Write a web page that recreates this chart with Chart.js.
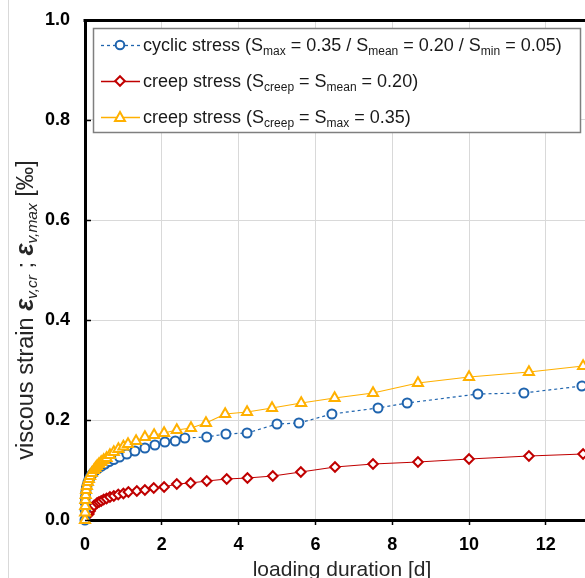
<!DOCTYPE html>
<html><head><meta charset="utf-8">
<script src="https://cdn.jsdelivr.net/npm/chart.js@4"></script>
<style>html,body{margin:0;padding:0;background:#fff;overflow:hidden}</style>
</head><body>
<canvas id="c" width="585" height="578"></canvas>
<script>
// ---- data ----
const cyclicT = [0, 0.003, 0.006, 0.01, 0.02, 0.035, 0.05, 0.075, 0.1, 0.13, 0.17, 0.22, 0.28, 0.35, 0.43, 0.52, 0.63, 0.75, 0.9, 1.09, 1.3, 1.56, 1.82, 2.08, 2.35, 2.6, 3.17, 3.67, 4.22, 5.0, 5.57, 6.43, 7.63, 8.39, 10.23, 11.43, 12.94];
const cyclicV = [0, 0.02, 0.035, 0.045, 0.055, 0.063, 0.068, 0.075, 0.08, 0.085, 0.09, 0.095, 0.1, 0.104, 0.108, 0.112, 0.117, 0.121, 0.126, 0.132, 0.138, 0.144, 0.15, 0.156, 0.158, 0.164, 0.166, 0.172, 0.174, 0.192, 0.194, 0.212, 0.224, 0.234, 0.252, 0.254, 0.268];
const creepMeanT = [0.1, 0.133, 0.178, 0.237, 0.316, 0.365, 0.422, 0.487, 0.562, 0.649, 0.75, 0.866, 1.0, 1.13, 1.35, 1.56, 1.79, 2.06, 2.39, 2.75, 3.17, 3.69, 4.23, 4.89, 5.62, 6.51, 7.5, 8.67, 10.0, 11.56, 12.97];
const creepMeanV = [0.012, 0.018, 0.024, 0.029, 0.034, 0.036, 0.038, 0.041, 0.043, 0.046, 0.048, 0.051, 0.053, 0.056, 0.058, 0.06, 0.064, 0.066, 0.072, 0.074, 0.078, 0.082, 0.084, 0.088, 0.096, 0.106, 0.112, 0.116, 0.122, 0.128, 0.132];
const creepMaxT = [0, 0.003, 0.006, 0.01, 0.018, 0.03, 0.05, 0.075, 0.1, 0.133, 0.178, 0.237, 0.274, 0.316, 0.365, 0.422, 0.487, 0.562, 0.649, 0.75, 0.87, 1.0, 1.12, 1.33, 1.56, 1.8, 2.06, 2.39, 2.76, 3.15, 3.65, 4.22, 4.87, 5.63, 6.5, 7.5, 8.67, 10.0, 11.56, 12.97];
const creepMaxV = [0, 0.015, 0.028, 0.04, 0.05, 0.06, 0.068, 0.076, 0.082, 0.088, 0.094, 0.1, 0.104, 0.108, 0.112, 0.116, 0.12, 0.124, 0.13, 0.136, 0.142, 0.147, 0.152, 0.158, 0.166, 0.17, 0.174, 0.18, 0.184, 0.194, 0.212, 0.216, 0.224, 0.234, 0.244, 0.254, 0.274, 0.286, 0.296, 0.308];
const xTicks = [0, 2, 4, 6, 8, 10, 12];
const yTicks = [0.0, 0.2, 0.4, 0.6, 0.8, 1.0];

const BLUE = '#1F64AE', RED = '#C00000', YEL = '#FFB000';
const FONT = '"Liberation Sans", Arial, sans-serif';
const pts = (t, v) => t.map((x, i) => ({x, y: v[i]}));

function drawRich(ctx, x, y, segs) {
  let cx = x;
  for (const s of segs) {
    ctx.font = s.f;
    ctx.fillText(s.t, cx, y + (s.dy || 0));
    cx += ctx.measureText(s.t).width;
  }
  return cx - x;
}
function richWidth(ctx, segs) {
  let w = 0;
  for (const s of segs) { ctx.font = s.f; w += ctx.measureText(s.t).width; }
  return w;
}

const N = '18px ' + FONT, SUB = '12px ' + FONT;
const legendRows = [
  {type: 'circle', color: BLUE, dash: [3, 3], segs: [
    {t: 'cyclic stress (S', f: N}, {t: 'max', f: SUB, dy: 4}, {t: ' = 0.35 / S', f: N},
    {t: 'mean', f: SUB, dy: 4}, {t: ' = 0.20 / S', f: N}, {t: 'min', f: SUB, dy: 4}, {t: ' = 0.05)', f: N}]},
  {type: 'diamond', color: RED, dash: [], segs: [
    {t: 'creep stress (S', f: N}, {t: 'creep', f: SUB, dy: 4}, {t: ' = S', f: N},
    {t: 'mean', f: SUB, dy: 4}, {t: ' = 0.20)', f: N}]},
  {type: 'triangle', color: YEL, dash: [], segs: [
    {t: 'creep stress (S', f: N}, {t: 'creep', f: SUB, dy: 4}, {t: ' = S', f: N},
    {t: 'max', f: SUB, dy: 4}, {t: ' = 0.35)', f: N}]}
];

const decor = {
  id: 'decor',
  afterDatasetsDraw(chart) {
    const ctx = chart.ctx, a = chart.chartArea;
    const ys = chart.scales.y;
    ctx.save();
    // top frame line
    ctx.strokeStyle = '#000'; ctx.lineWidth = 3;
    ctx.beginPath(); ctx.moveTo(a.left - 1.5, a.top + 0.5); ctx.lineTo(chart.width, a.top + 0.5); ctx.stroke();
    // inward y ticks
    ctx.lineWidth = 1.5;
    for (const v of yTicks) {
      const py = Math.round(ys.getPixelForValue(v)) + 0.5;
      ctx.beginPath(); ctx.moveTo(a.left, py); ctx.lineTo(a.left + 6, py); ctx.stroke();
    }
    // outer frame line
    ctx.strokeStyle = '#d9d9d9'; ctx.lineWidth = 1;
    ctx.beginPath(); ctx.moveTo(8.5, 0); ctx.lineTo(8.5, chart.height); ctx.stroke();

    // legend
    const lx = 93, ly = 28, lw = 487, lh = 104;
    ctx.fillStyle = '#fff'; ctx.fillRect(lx, ly, lw, lh);
    ctx.strokeStyle = '#7f7f7f'; ctx.lineWidth = 1.5;
    ctx.strokeRect(lx + 0.5, ly + 0.5, lw, lh);
    const rowY = [45, 81, 117];
    legendRows.forEach((r, i) => {
      const y = rowY[i];
      ctx.strokeStyle = r.color; ctx.lineWidth = 1.3; ctx.setLineDash(r.dash);
      ctx.beginPath(); ctx.moveTo(101, y + 0.5); ctx.lineTo(140, y + 0.5); ctx.stroke();
      ctx.setLineDash([]);
      ctx.fillStyle = '#fff'; ctx.lineWidth = 2;
      ctx.beginPath();
      if (r.type === 'circle') ctx.arc(120, y, 4.3, 0, Math.PI * 2);
      else if (r.type === 'diamond') { ctx.moveTo(120, y - 4.8); ctx.lineTo(124.8, y); ctx.lineTo(120, y + 4.8); ctx.lineTo(115.2, y); ctx.closePath(); }
      else { ctx.moveTo(120, y - 5); ctx.lineTo(125, y + 4); ctx.lineTo(115, y + 4); ctx.closePath(); }
      ctx.fill(); ctx.stroke();
      ctx.fillStyle = '#1a1a1a'; ctx.textBaseline = 'alphabetic';
      drawRich(ctx, 143, y + 6, r.segs);
    });

    // x title
    ctx.fillStyle = '#262626';
    ctx.font = '21px ' + FONT; ctx.textAlign = 'center'; ctx.textBaseline = 'middle';
    ctx.fillText('loading duration [d]', 342, 570);

    // y title (rotated, rich)
    const ySegs = [
      {t: 'viscous strain ', f: '23.5px ' + FONT},
      {t: 'ε', f: 'italic bold 25px ' + FONT},
      {t: 'v,cr', f: 'italic 15.5px ' + FONT, dy: 4},
      {t: ' ; ', f: '23.5px ' + FONT},
      {t: 'ε', f: 'italic bold 25px ' + FONT},
      {t: 'v,max', f: 'italic 15.5px ' + FONT, dy: 4},
      {t: ' [‰]', f: '23.5px ' + FONT}
    ];
    ctx.textAlign = 'left'; ctx.textBaseline = 'alphabetic';
    ctx.translate(33, 310); ctx.rotate(-Math.PI / 2);
    const w = richWidth(ctx, ySegs);
    drawRich(ctx, -w / 2, 0, ySegs);
    ctx.restore();
  }
};

const zeroPad = s => { s.paddingTop = 0; s.paddingBottom = 0; s.paddingLeft = 0; s.paddingRight = 0; };

new Chart(document.getElementById('c'), {
  type: 'line',
  data: {
    datasets: [
      {label: 'cyclic stress', data: pts(cyclicT, cyclicV), borderColor: BLUE, borderWidth: 1.2, borderDash: [3, 3],
       pointStyle: 'circle', pointRadius: 4.5, pointBorderWidth: 2, pointBackgroundColor: '#fff', pointBorderColor: BLUE, order: 1, clip: false},
      {label: 'creep stress mean', data: pts(creepMeanT, creepMeanV), borderColor: RED, borderWidth: 1.2,
       pointStyle: 'rectRot', pointRadius: 4.8, pointBorderWidth: 2, pointBackgroundColor: '#fff', pointBorderColor: RED, order: 2, clip: false},
      {label: 'creep stress max', data: pts(creepMaxT, creepMaxV), borderColor: YEL, borderWidth: 1.2,
       pointStyle: 'triangle', pointRadius: 5.8, pointBorderWidth: 2, pointBackgroundColor: '#fff', pointBorderColor: YEL, order: 0, clip: false}
    ]
  },
  options: {
    responsive: false, animation: false, devicePixelRatio: 1,
    layout: {autoPadding: false, padding: {top: 20, left: 0, right: 0, bottom: 0}},
    plugins: {legend: {display: false}, tooltip: {enabled: false}},
    scales: {
      x: {type: 'linear', min: 0, max: 13.02,
          afterFit: s => { s.height = 58; zeroPad(s); },
          afterBuildTicks: s => { s.ticks = xTicks.map(v => ({value: v})); },
          ticks: {color: '#000', font: {family: FONT, size: 18, weight: 'bold'}, padding: 9, maxRotation: 0, callback: v => String(v)},
          grid: {color: '#d9d9d9', lineWidth: 1, tickColor: '#000', tickLength: 5, tickWidth: 1.5},
          border: {color: '#000', width: 3}},
      y: {type: 'linear', min: 0, max: 1,
          afterFit: s => { s.width = 85; zeroPad(s); },
          afterBuildTicks: s => { s.ticks = yTicks.map(v => ({value: v})); },
          ticks: {color: '#000', font: {family: FONT, size: 18, weight: 'bold'}, padding: 15, callback: v => v.toFixed(1)},
          grid: {color: '#d9d9d9', lineWidth: 1, drawTicks: false},
          border: {color: '#000', width: 3}}
    }
  },
  plugins: [decor]
});
</script>
</body></html>
